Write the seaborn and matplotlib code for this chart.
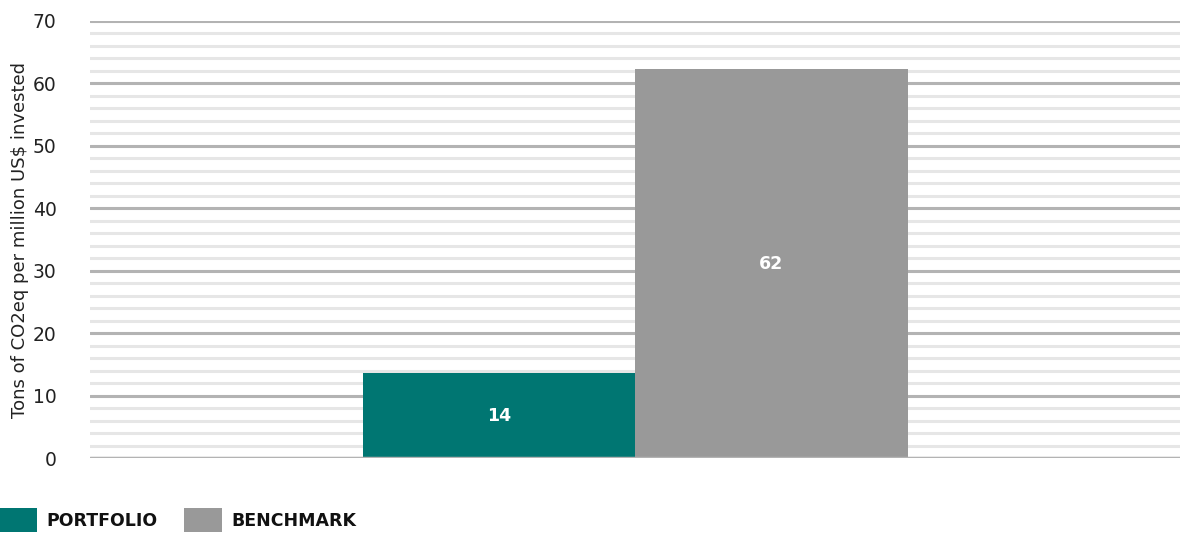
import matplotlib
matplotlib.use("Agg")
import matplotlib.pyplot as plt
import seaborn as sns
import pandas as pd
from matplotlib.patches import Patch
from matplotlib.ticker import MultipleLocator

categories = ["PORTFOLIO", "BENCHMARK"]
values = [13.6, 62.3]
labels = ["14", "62"]
colors = ["#007672", "#999999"]
ylabel = "Tons of CO2eq per million US$ invested"

sns.set_theme(style="white")
plt.rcParams['font.family'] = ['DejaVu Sans']

df = pd.DataFrame({"cat": categories, "val": values})

fig = plt.figure(figsize=(11.8, 5.33), dpi=100)
ax = fig.add_axes([90/1180, 1-458/533, 1-90/1180, (458-21)/533])

sns.barplot(data=df, x="cat", y="val", hue="cat", palette=colors, width=1.0,
            legend=False, ax=ax, saturation=1, zorder=3, edgecolor="none")

ax.set_xlim(-1.5, 2.5)
ax.set_ylim(0, 70)
ax.yaxis.set_major_locator(MultipleLocator(10))
ax.yaxis.set_minor_locator(MultipleLocator(2))
ax.grid(which="major", axis="y", color="#b3b3b3", linewidth=2.2, zorder=0)
ax.grid(which="minor", axis="y", color="#e6e6e6", linewidth=2.2, zorder=0)
ax.set_axisbelow(True)
for s in ax.spines.values():
    s.set_visible(False)
ax.axhline(0, color="#b3b3b3", linewidth=2.5, zorder=4)
ax.set_xticks([])
ax.set_xlabel("")
ax.set_ylabel(ylabel, fontsize=13, color="#222222", labelpad=3)
ax.tick_params(axis="y", which="both", length=0, labelsize=13.5, labelcolor="#222222", pad=24)

for p, lab in zip(ax.patches, labels):
    ax.text(p.get_x() + p.get_width()/2, p.get_height()/2, lab, ha="center", va="center",
            color="white", fontsize=12.5, fontweight="bold", zorder=5)

handles = [Patch(facecolor=c, edgecolor="none") for c in colors]
leg = fig.legend(handles, categories, loc="lower left", bbox_to_anchor=(-0.001, 0.002),
                 ncol=2, frameon=False, prop={"weight": "bold", "size": 12.5},
                 handlelength=2.2, handleheight=1.7, handletextpad=0.55, columnspacing=1.5,
                 borderaxespad=0, borderpad=0)
for t in leg.get_texts():
    t.set_color("#111111")

fig.savefig("out.png", dpi=100)
